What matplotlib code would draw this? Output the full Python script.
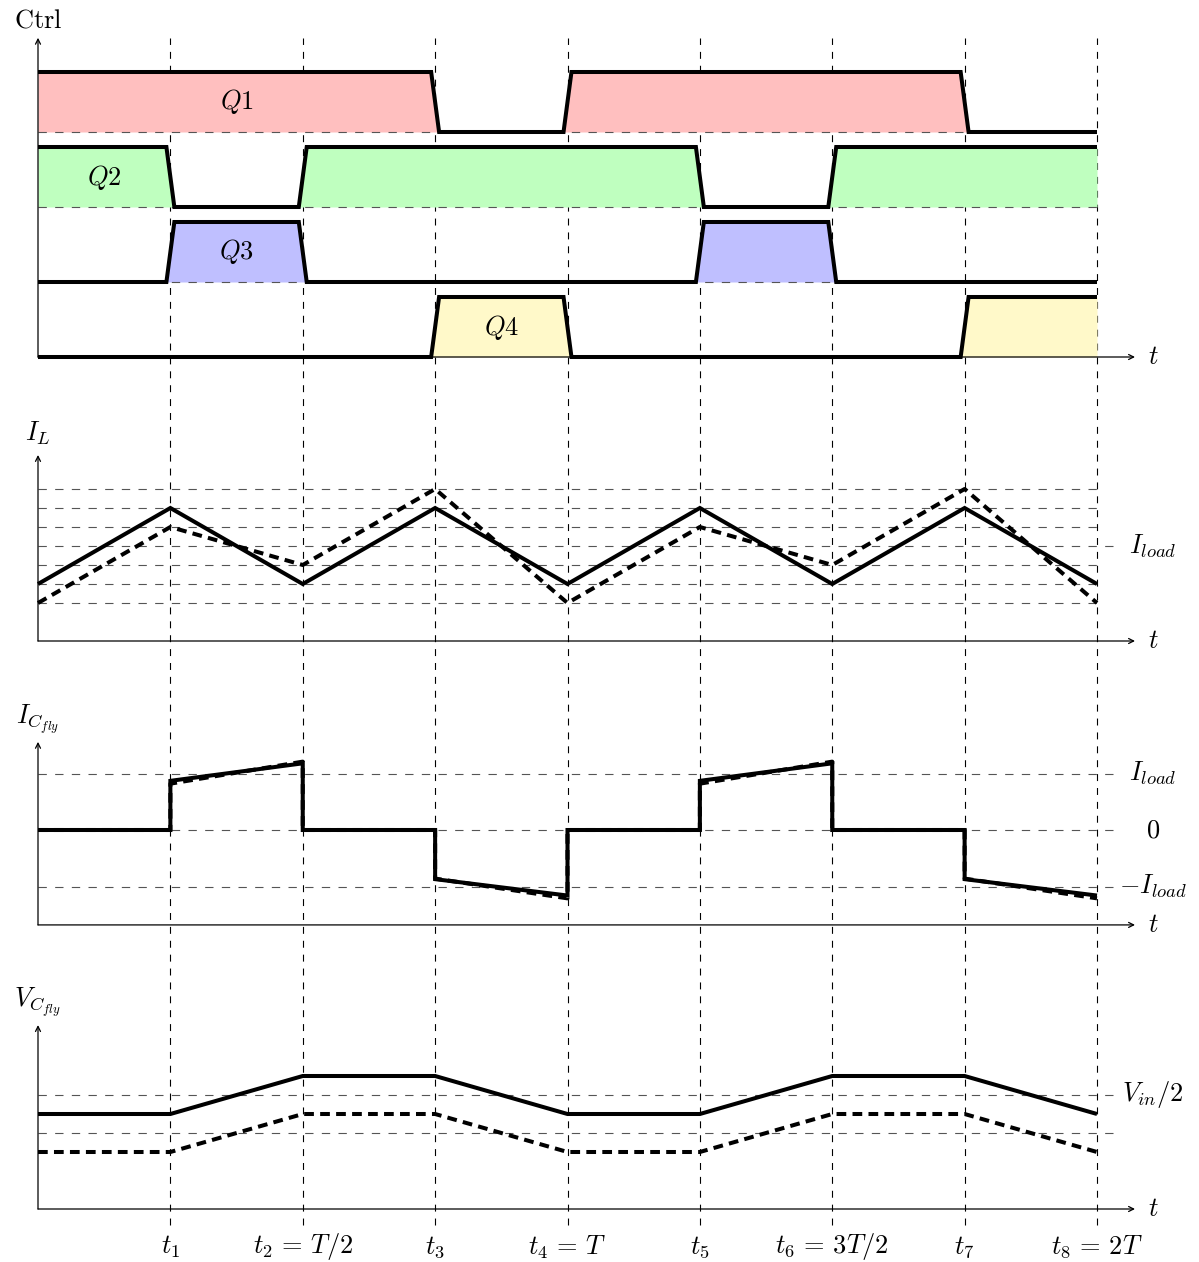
import numpy as np
import matplotlib.pyplot as plt

plt.rcParams['mathtext.fontset'] = 'cm'
plt.rcParams['font.family'] = 'DejaVu Serif'
plt.rcParams['lines.scale_dashes'] = False

W, H = 1199, 1262
FS = 19

# time axis (in units of t_k)
t_ticks = [1, 2, 3, 4, 5, 6, 7, 8]
tick_labels = [r'$t_1$', r'$t_2\,=\,T/2$', r'$t_3$', r'$t_4\,=\,T$',
               r'$t_5$', r'$t_6\,=\,3T/2$', r'$t_7$', r'$t_8\,=\,2T$']

# control signals: state per interval t_k .. t_k+1
q_names = [r'$Q1$', r'$Q2$', r'$Q3$', r'$Q4$']
q1 = [1, 1, 1, 0, 1, 1, 1, 0]
q2 = [1, 0, 1, 1, 1, 0, 1, 1]
q3 = [0, 1, 0, 0, 0, 1, 0, 0]
q4 = [0, 0, 0, 1, 0, 0, 0, 1]
q_base = [3.75, 2.5, 1.25, 0]
q_colors = ['#ffbfbf', '#bfffbf', '#bfbfff', '#fff9c9']
q_label_t = [1.5, 0.5, 1.5, 3.5]

# inductor current at t0..t8
il_solid = [3, 7, 3, 7, 3, 7, 3, 7, 3]
il_dashed = [2, 6, 4, 8, 2, 6, 4, 8, 2]
il_levels = [2, 3, 4, 6, 7, 8]
il_load = 5

# flying cap current, value at start/end of each interval
icf_solid_start = [0, 0.87, 0, -0.87, 0, 0.87, 0, -0.87]
icf_solid_end = [0, 1.18, 0, -1.16, 0, 1.18, 0, -1.16]
icf_dashed_start = [0, 0.82, 0, -0.86, 0, 0.82, 0, -0.86]
icf_dashed_end = [0, 1.21, 0, -1.21, 0, 1.21, 0, -1.21]
icf_levels = [1, 0, -1]
icf_labels = [r'$I_{load}$', r'$0$', r'$-I_{load}$']

# flying cap voltage at t0..t8
v_solid = [5, 5, 7, 7, 5, 5, 7, 7, 5]
v_dashed = [3, 3, 5, 5, 3, 3, 5, 5, 3]
v_levels = [6, 4]
v_labels = [r'$V_{in}/2$', None]

x_lo, x_hi = -38 / 132.375, (W - 38) / 132.375
x_arrow, x_lab, x_ext = 8.287, 8.424, 8.136

fig = plt.figure(figsize=(W / 100, H / 100), dpi=100)

GRAY = '#555555'
thin_dash = dict(color=GRAY, lw=0.8, linestyle=(0, (6, 6)))
thick = dict(color='black', lw=2.9, solid_capstyle='butt', solid_joinstyle='miter')
thick_dash = dict(color='black', lw=2.9, linestyle=(0, (7, 4.5)))


def panel(base_px, ppu, top_px, bot_px):
    ax = fig.add_axes([0, 1 - bot_px / H, 1, (bot_px - top_px) / H])
    ax.set_xlim(x_lo, x_hi)
    ax.set_ylim(-(bot_px - base_px) / ppu, (base_px - top_px) / ppu)
    ax.axis('off')
    return ax


def arrow(ax, x0, y0, x1, y1):
    ax.annotate('', xy=(x1, y1), xytext=(x0, y0),
                arrowprops=dict(arrowstyle='->', lw=0.9, color='black',
                                shrinkA=0, shrinkB=0, mutation_scale=9))


def axes_lines(ax, y_axis, y_top, name, y_name):
    arrow(ax, 0, y_axis, x_arrow, y_axis)
    arrow(ax, 0, y_axis, 0, y_top)
    ax.text(x_lab, y_axis, r'$t$', fontsize=FS, ha='center', va='center')
    ax.text(0, y_name, name, fontsize=FS, ha='center', va='center')


def ramp_wave(states, base, r=0.03):
    xs, ys = [0], [base + states[0]]
    for k in range(1, len(states)):
        if states[k] != states[k - 1]:
            xs += [k - r, k + r]
            ys += [base + states[k - 1], base + states[k]]
    xs.append(len(states))
    ys.append(base + states[-1])
    return np.array(xs), np.array(ys)


def step_wave(start, end):
    xs, ys = [0], [start[0]]
    for k in range(len(start)):
        xs += [k, k + 1]
        ys += [start[k], end[k]]
    return xs, ys


# overlay for the vertical time markers
ov = fig.add_axes([0, 0, 1, 1])
ov.set_xlim(x_lo, x_hi)
ov.set_ylim(0, 1)
ov.axis('off')
ov.vlines(t_ticks, 1 - 1225 / H, 1 - 38 / H, color='black', lw=0.8,
          linestyle=(0, (5, 5)), zorder=3)

# ---- Ctrl panel
ax1 = panel(357, 60, 0, 390)
for states, base, col, name, tl in zip([q1, q2, q3, q4], q_base, q_colors, q_names, q_label_t):
    xs, ys = ramp_wave(states, base)
    ax1.fill_between(xs, base, ys, color=col, lw=0, zorder=1)
    if base > 0:
        ax1.hlines(base, 0, 8, zorder=2, **thin_dash)
    ax1.plot(xs, ys, zorder=5, **thick)
    ax1.text(tl, base + 0.5, name, fontsize=FS, ha='center', va='center', zorder=6)
axes_lines(ax1, 0, 5.32, r'$\mathrm{Ctrl}$', 5.62)

# ---- I_L panel
ax2 = panel(641, 19, 400, 680)
ax2.hlines(il_levels, 0, 8, zorder=2, **thin_dash)
ax2.hlines(il_load, 0, x_ext, zorder=2, **thin_dash)
ax2.text(x_lab, il_load, r'$I_{load}$', fontsize=FS, ha='center', va='center')
ax2.plot(range(9), il_solid, zorder=5, **thick)
ax2.plot(range(9), il_dashed, zorder=5, **thick_dash)
axes_lines(ax2, 0, 9.79, r'$I_L$', 10.95)

# ---- I_Cfly panel
ax3 = panel(830, 56.5, 690, 960)
ax3.hlines(icf_levels, 0, x_ext, zorder=2, **thin_dash)
for lvl, lab in zip(icf_levels, icf_labels):
    ax3.text(x_lab, lvl, lab, fontsize=FS, ha='center', va='center')
xs, ys = step_wave(icf_dashed_start, icf_dashed_end)
ax3.plot(xs, ys, zorder=5, **thick_dash)
xs, ys = step_wave(icf_solid_start, icf_solid_end)
ax3.plot(xs, ys, zorder=6, **thick)
axes_lines(ax3, -1.68, 1.56, r'$I_{C_{fly}}$', 1.95)

# ---- V_Cfly panel
ax4 = panel(1209, 19, 980, 1262)
ax4.hlines(v_levels, 0, x_ext, zorder=2, **thin_dash)
for lvl, lab in zip(v_levels, v_labels):
    if lab:
        ax4.text(x_lab, lvl, lab, fontsize=FS, ha='center', va='center')
ax4.plot(range(9), v_solid, zorder=5, **thick)
ax4.plot(range(9), v_dashed, zorder=5, **thick_dash)
axes_lines(ax4, 0, 9.68, r'$V_{C_{fly}}$', 10.84)
for tk, lab in zip(t_ticks, tick_labels):
    ax4.text(tk, -2.0, lab, fontsize=FS, ha='center', va='center')

fig.savefig('out.png', dpi=100)
